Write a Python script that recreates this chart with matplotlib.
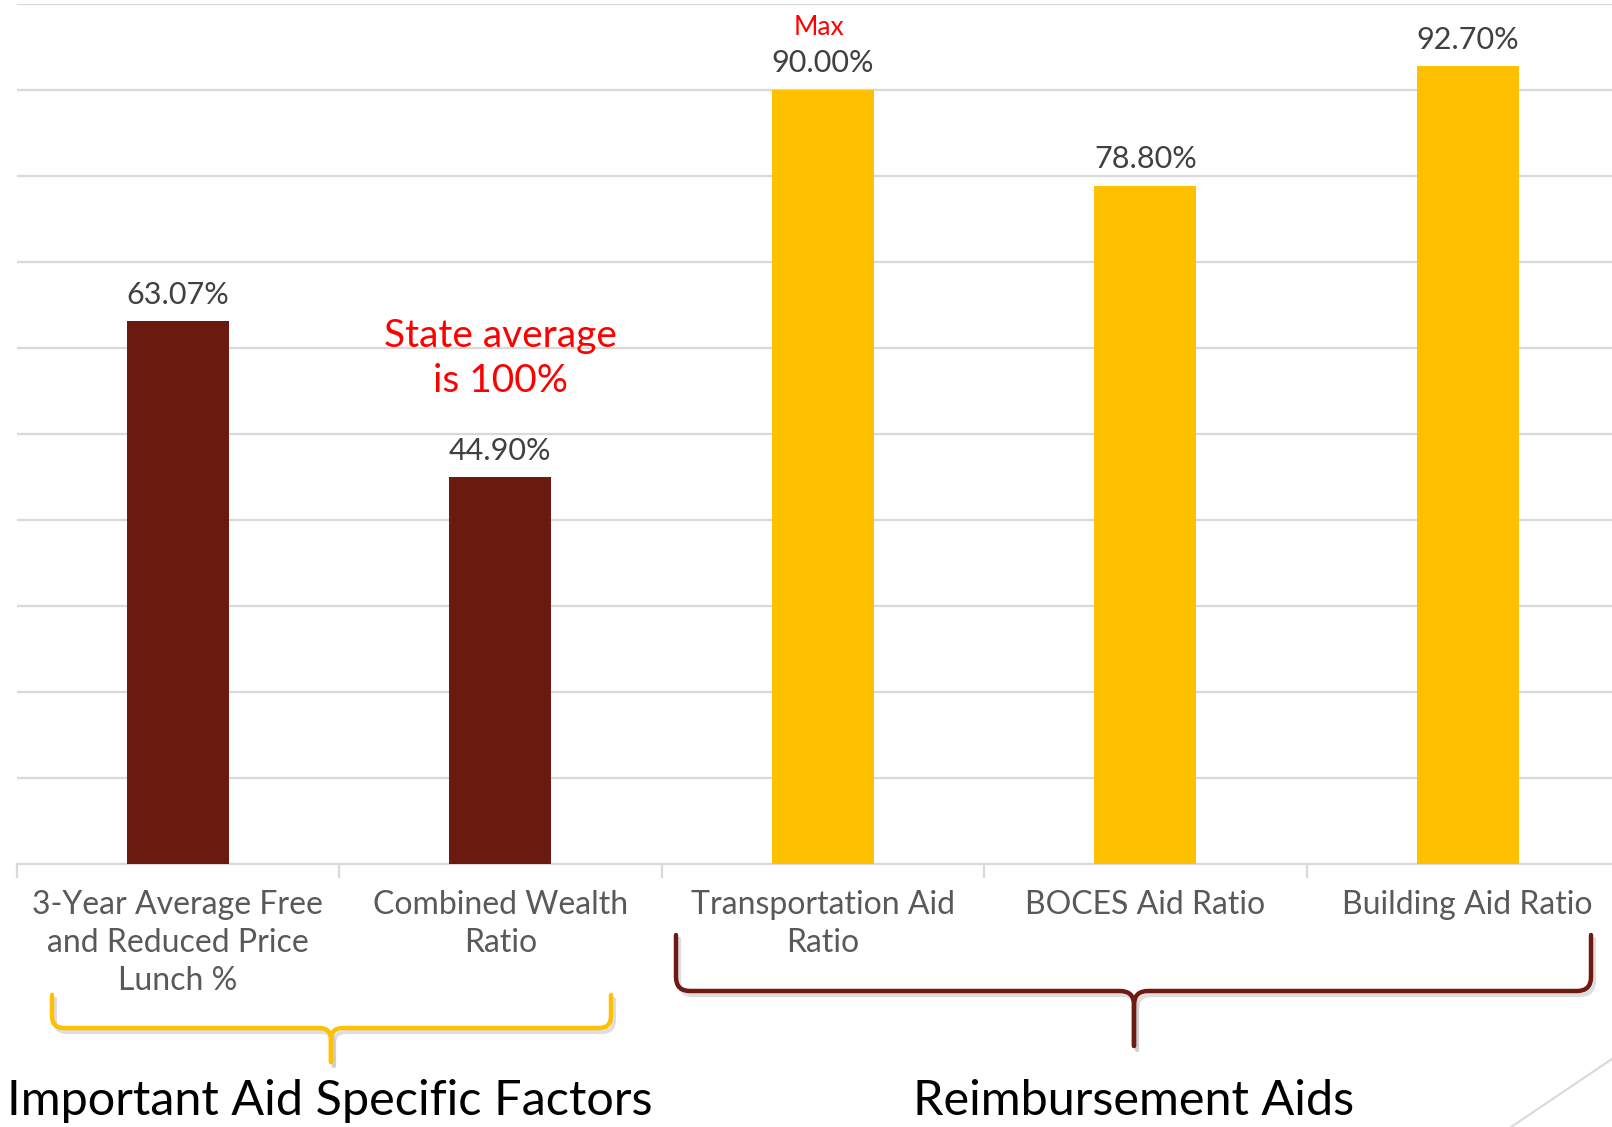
import matplotlib
matplotlib.use("Agg")
import matplotlib.pyplot as plt
from matplotlib.path import Path
from matplotlib.patches import PathPatch

categories = ["3-Year Average Free\nand Reduced Price\nLunch %",
              "Combined Wealth\nRatio",
              "Transportation Aid\nRatio",
              "BOCES Aid Ratio",
              "Building Aid Ratio"]
values = [63.07, 44.90, 90.00, 78.80, 92.70]
value_labels = ["63.07%", "44.90%", "90.00%", "78.80%", "92.70%"]
group_names = ["Important Aid Specific Factors", "Reimbursement Aids"]

DARK_RED = "#6B1A10"
YELLOW = "#FFC000"
bar_colors = [DARK_RED, DARK_RED, YELLOW, YELLOW, YELLOW]

plt.rcParams['font.family'] = ['Lato', 'DejaVu Sans']

W, H = 1612, 1127
fig = plt.figure(figsize=(W / 100, H / 100), dpi=100)

# main axes (extends slightly past the right edge, as in the reference)
left_px, right_px = 16.5, 1629
bot_px, top_px = 863.6, 3.5
ax = fig.add_axes([left_px / W, 1 - bot_px / H, (right_px - left_px) / W, (bot_px - top_px) / H])

x = list(range(len(categories)))
ax.bar(x, values, width=0.315, color=bar_colors, zorder=3)
ax.set_xlim(-0.5, len(categories) - 0.5)
ax.set_ylim(0, 100)
ax.set_yticks(range(0, 101, 10))
ax.yaxis.grid(True, color="#d9d9d9", linewidth=1.6, zorder=0)
ax.tick_params(axis='y', length=0, labelleft=False)
for s in ["left", "right", "top"]:
    ax.spines[s].set_visible(False)
ax.spines["bottom"].set_color("#d9d9d9")
ax.spines["bottom"].set_linewidth(1.6)

ax.set_xticks(x)
ax.set_xticklabels(categories, fontsize=23, color="#595959", linespacing=1.33)
ax.tick_params(axis='x', length=0, pad=19)
ax.set_xticks([i - 0.5 for i in range(len(categories) + 1)], minor=True)
ax.tick_params(axis='x', which='minor', length=10, color="#d9d9d9", width=1.6)

for xi, v, lab in zip(x, values, value_labels):
    ax.annotate(lab, (xi, v), xytext=(0, 9), textcoords="offset points",
                ha="center", va="bottom", fontsize=22, color="#404040")

ax.annotate("Max", (2, values[2]), xytext=(-3, 36), textcoords="offset points",
            ha="center", va="bottom", fontsize=19, color="#FF0000")
ax.text(1, 58.7, "State average\nis 100%", ha="center", va="center",
        fontsize=28, color="#FF0000", linespacing=1.3, zorder=4)

# overlay for braces and group labels
ov = fig.add_axes([0, 0, 1, 1], zorder=5)
ov.set_xlim(0, W)
ov.set_ylim(H, 0)
ov.axis("off")
ov.patch.set_alpha(0)


def brace(x0, x1, xc, ytop, ymid, ytip, color, r=12):
    for xa, sgn in ((x0, 1), (x1, -1)):
        verts = [(xa, ytop), (xa, ymid - r), (xa, ymid), (xa + sgn * r, ymid),
                 (xc - sgn * r, ymid), (xc, ymid), (xc, ymid + r), (xc, ytip)]
        codes = [Path.MOVETO, Path.LINETO, Path.CURVE3, Path.CURVE3,
                 Path.LINETO, Path.CURVE3, Path.CURVE3, Path.LINETO]
        # shadow
        sverts = [(vx + 3, vy + 4) for vx, vy in verts]
        ov.add_patch(PathPatch(Path(sverts, codes), fill=False, edgecolor="#bfbfbf",
                               linewidth=3, alpha=0.5, capstyle="round", joinstyle="round"))
        ov.add_patch(PathPatch(Path(verts, codes), fill=False, edgecolor=color,
                               linewidth=3.2, capstyle="round", joinstyle="round"))


brace(52, 611, 331, 995, 1028, 1062, YELLOW)
brace(676, 1591, 1134, 935, 991, 1046, "#6E1A12", r=14)

ov.text(330, 1101, group_names[0], ha="center", va="center", fontsize=35, color="black")
ov.text(1134, 1101, group_names[1], ha="center", va="center", fontsize=35, color="black")

# decorative diagonal line, bottom right
ov.plot([1511, 1612], [1127, 1059], color="#d9d9d9", linewidth=1.5)

fig.savefig("out.png", dpi=100, facecolor="white")
